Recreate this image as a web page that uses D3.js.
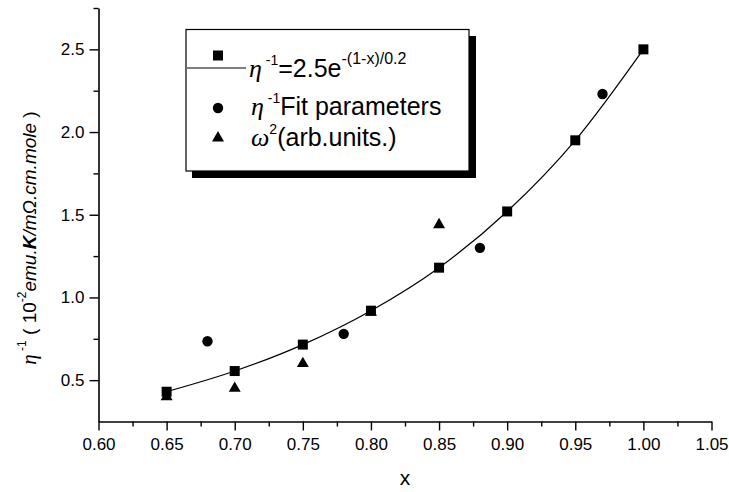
<!DOCTYPE html>
<html>
<head>
<meta charset="utf-8">
<script src="https://cdn.jsdelivr.net/npm/d3@7"></script>
<style>
body { margin: 0; background: #fff; }
text { font-family: "Liberation Sans", Arial, sans-serif; fill: #000; }
.greek { font-family: "Liberation Serif", "DejaVu Serif", serif; font-style: italic; }
</style>
</head>
<body>
<svg id="chart" width="729" height="492"></svg>
<script>
// squares: eta^-1 from the exponential fit
var fitX = [0.65, 0.70, 0.75, 0.80, 0.85, 0.90, 0.95, 1.00];
var fitY = [0.43, 0.555, 0.715, 0.92, 1.18, 1.52, 1.95, 2.50];

// circles: eta^-1 fit parameters
var paramX = [0.68, 0.78, 0.88, 0.97];
var paramY = [0.735, 0.78, 1.30, 2.23];

// triangles: omega^2 (arb. units)
var omegaX = [0.65, 0.70, 0.75, 0.80, 0.85];
var omegaY = [0.40, 0.45, 0.60, 0.91, 1.44];

// axis ticks
var xTicks = [0.60, 0.65, 0.70, 0.75, 0.80, 0.85, 0.90, 0.95, 1.00, 1.05];
var xMinor = [0.625, 0.675, 0.725, 0.775, 0.825, 0.875, 0.925, 0.975, 1.025];
var yTicks = [0.5, 1.0, 1.5, 2.0, 2.5];
var yMinor = [0.75, 1.25, 1.75, 2.25, 2.75];

var svg = d3.select("#chart");

var x = d3.scaleLinear().domain([0.60, 1.05]).range([98.5, 711.5]);
var y = d3.scaleLinear().domain([0.25, 2.75]).range([421.5, 8]);

// x axis (major + minor)
svg.append("g")
    .attr("transform", "translate(0," + y(0.25) + ")")
    .call(d3.axisBottom(x).tickValues(xTicks).tickFormat(d3.format(".2f"))
        .tickSizeInner(9).tickSizeOuter(0).tickPadding(7));
svg.append("g")
    .attr("transform", "translate(0," + y(0.25) + ")")
    .call(d3.axisBottom(x).tickValues(xMinor).tickFormat("").tickSize(5))
    .select(".domain").remove();

// y axis (major + minor)
svg.append("g")
    .attr("transform", "translate(" + x(0.60) + ",0)")
    .call(d3.axisLeft(y).tickValues(yTicks).tickFormat(d3.format(".1f"))
        .tickSizeInner(9).tickSizeOuter(0).tickPadding(5));
svg.append("g")
    .attr("transform", "translate(" + x(0.60) + ",0)")
    .call(d3.axisLeft(y).tickValues(yMinor).tickFormat("").tickSize(5))
    .select(".domain").remove();

svg.selectAll(".domain").attr("stroke", "#000").attr("stroke-width", 1.6);
svg.selectAll(".tick line").attr("stroke", "#000").attr("stroke-width", 1.4);
svg.selectAll(".tick text")
    .attr("font-family", "'Liberation Sans', Arial, sans-serif")
    .attr("font-size", 17)
    .attr("fill", "#111");

// axis titles
svg.append("text")
    .attr("x", x(0.825))
    .attr("y", 485)
    .attr("text-anchor", "middle")
    .attr("font-size", 21)
    .text("x");

// y title centred a bit below the middle of the axis, as in the original
var yLabel = svg.append("text")
    .attr("transform", "translate(36,238) rotate(-90)")
    .attr("text-anchor", "middle")
    .attr("font-size", 19)
    .attr("fill", "#222");
yLabel.append("tspan").attr("class", "greek").attr("font-size", 21).text("η");
yLabel.append("tspan").attr("font-size", 12).attr("dy", -10).text(" -1");
yLabel.append("tspan").attr("dy", 10).text(" ( 10");
yLabel.append("tspan").attr("font-size", 12).attr("dy", -10).text("-2");
yLabel.append("tspan").attr("dy", 10).attr("font-style", "italic").text("emu.");
yLabel.append("tspan").attr("font-style", "italic").attr("font-weight", "bold").text("K");
yLabel.append("tspan").attr("font-style", "italic").text("/m");
yLabel.append("tspan").attr("font-style", "italic").text("Ω");
yLabel.append("tspan").attr("font-style", "italic").text(".cm.mole");
yLabel.append("tspan").text(" )");

// fit curve through the squares
var fitPts = fitX.map(function (d, i) { return [d, fitY[i]]; });
var line = d3.line()
    .x(function (d) { return x(d[0]); })
    .y(function (d) { return y(d[1]); })
    .curve(d3.curveMonotoneX);
svg.append("path")
    .datum(fitPts)
    .attr("d", line)
    .attr("fill", "none")
    .attr("stroke", "#000")
    .attr("stroke-width", 1.2);

var sqSym = d3.symbol().type(d3.symbolSquare).size(100);
var ciSym = d3.symbol().type(d3.symbolCircle).size(85);
var trSym = d3.symbol().type(d3.symbolTriangle).size(62);

svg.selectAll(".tri")
    .data(omegaX)
    .enter()
    .append("path")
    .attr("class", "tri")
    .attr("d", trSym)
    .attr("transform", function (d, i) { return "translate(" + x(d) + "," + y(omegaY[i]) + ")"; })
    .attr("fill", "#000");

svg.selectAll(".circ")
    .data(paramX)
    .enter()
    .append("path")
    .attr("class", "circ")
    .attr("d", ciSym)
    .attr("transform", function (d, i) { return "translate(" + x(d) + "," + y(paramY[i]) + ")"; })
    .attr("fill", "#000");

svg.selectAll(".sq")
    .data(fitX)
    .enter()
    .append("path")
    .attr("class", "sq")
    .attr("d", sqSym)
    .attr("transform", function (d, i) { return "translate(" + x(d) + "," + y(fitY[i]) + ")"; })
    .attr("fill", "#000");

// legend box with drop shadow
var lg = svg.append("g");
lg.append("rect")
    .attr("x", 192).attr("y", 36)
    .attr("width", 284).attr("height", 142)
    .attr("fill", "#000");
lg.append("rect")
    .attr("x", 186).attr("y", 29.5)
    .attr("width", 283).attr("height", 141.5)
    .attr("fill", "#fff")
    .attr("stroke", "#000")
    .attr("stroke-width", 1.2);

lg.append("path").attr("d", sqSym).attr("transform", "translate(218,55.5)");
lg.append("line")
    .attr("x1", 187).attr("x2", 246)
    .attr("y1", 68).attr("y2", 68)
    .attr("stroke", "#000").attr("stroke-width", 1.2);
lg.append("path").attr("d", ciSym).attr("transform", "translate(218,108)");
lg.append("path").attr("d", trSym).attr("transform", "translate(218,138)");

var t1 = lg.append("text").attr("x", 249).attr("y", 77).attr("font-size", 25);
t1.append("tspan").attr("class", "greek").attr("font-size", 26).text("η");
t1.append("tspan").attr("font-size", 14).attr("dy", -12).text(" -1");
t1.append("tspan").attr("dy", 12).text("=2.5e");
t1.append("tspan").attr("font-size", 16).attr("dy", -13).text("-(1-x)/0.2");

var t2 = lg.append("text").attr("x", 251).attr("y", 115).attr("font-size", 25);
t2.append("tspan").attr("class", "greek").attr("font-size", 26).text("η");
t2.append("tspan").attr("font-size", 14).attr("dy", -12).text(" -1");
t2.append("tspan").attr("dy", 12).text("Fit parameters");

var t3 = lg.append("text").attr("x", 251).attr("y", 146).attr("font-size", 25);
t3.append("tspan").attr("class", "greek").attr("font-size", 26).text("ω");
t3.append("tspan").attr("font-size", 14).attr("dy", -12).text("2");
t3.append("tspan").attr("dy", 12).text("(arb.units.)");
</script>
</body>
</html>
